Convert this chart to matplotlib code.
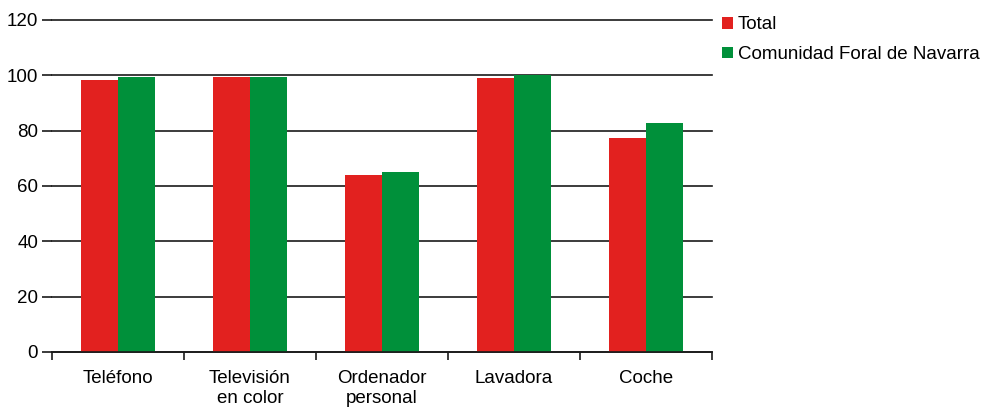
import numpy as np
import matplotlib.pyplot as plt

plt.rcParams['font.family'] = ['Liberation Sans', 'DejaVu Sans']
plt.rcParams['font.size'] = 13.5

categories = ['Teléfono', 'Televisión\nen color', 'Ordenador\npersonal', 'Lavadora', 'Coche']
total = [98.2, 99.3, 64.0, 99.0, 77.4]
navarra = [99.3, 99.3, 65.1, 100.0, 82.8]
series_names = ['Total', 'Comunidad Foral de Navarra']

red = '#e2211f'
green = '#00903a'

fig = plt.figure(figsize=(9.81, 4.08), dpi=100)
ax = fig.add_axes([0.053, 0.1373, 0.6728, 0.8137])

x = np.arange(len(categories))
w = 0.284
ax.bar(x - w / 2, total, w, color=red, label=series_names[0], zorder=3)
ax.bar(x + w / 2, navarra, w, color=green, label=series_names[1], zorder=3)

ax.set_xlim(-0.5, len(categories) - 0.5)
ax.set_ylim(0, 120)
ax.set_yticks(range(0, 121, 20))
ax.yaxis.grid(True, color='#1a1a1a', lw=1.2, zorder=0)
for line in ax.get_ygridlines():
    line.set_clip_on(False)
ax.tick_params(axis='y', length=7, width=1.2, color='#1a1a1a', pad=3)

# category boundaries get the tick marks, centres get the labels
ax.set_xticks(np.arange(-0.5, len(categories)), labels=[])
ax.set_xticks(x, labels=categories, minor=True)
ax.tick_params(axis='x', which='major', length=6, width=1.2, color='#1a1a1a')
ax.tick_params(axis='x', which='minor', length=0, pad=13)
for lab in ax.get_xticklabels(minor=True):
    lab.set_linespacing(1.2)

for s in ['left', 'right', 'top']:
    ax.spines[s].set_visible(False)
ax.spines['bottom'].set_color('#1a1a1a')
ax.spines['bottom'].set_linewidth(1.2)
ax.spines['bottom'].set_zorder(4)

fig.legend(loc='upper left', bbox_to_anchor=(0.736, 0.96), frameon=False,
           handlelength=0.6, handleheight=0.6, handletextpad=0.25,
           labelspacing=0.68, borderaxespad=0, borderpad=0)

fig.savefig('out.png', dpi=100)
